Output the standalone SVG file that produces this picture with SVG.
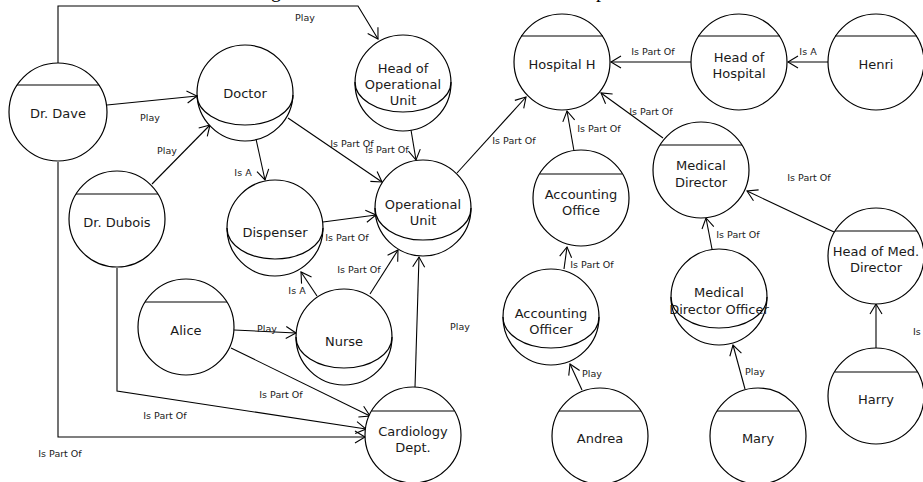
<svg xmlns="http://www.w3.org/2000/svg" width="923" height="482" viewBox="0 0 923 482">
  <style>
    .node circle { fill: #ffffff; stroke: #000000; stroke-width: 1.2; }
    .node line, .node path { fill: none; stroke: #000000; stroke-width: 1.2; }
    .node text { font-family: "DejaVu Sans", sans-serif; font-size: 13px; fill: #1a1a1a; text-anchor: middle; }
    .edges path { fill: none; stroke: #000000; stroke-width: 1.1; marker-end: url(#open-arrow); }
    .edge-labels text { font-family: "DejaVu Sans", sans-serif; font-size: 9.5px; fill: #1a1a1a; text-anchor: middle; }
    .title { font-family: "Liberation Serif", serif; font-size: 20px; fill: #000000; }
  </style>
  <defs>
    <marker id="open-arrow" markerUnits="userSpaceOnUse" markerWidth="14" markerHeight="14" refX="11" refY="7" orient="auto" overflow="visible">
      <path d="M1,1 L11,7 L1,13" fill="none" stroke="#000000" stroke-width="1.1"/>
    </marker>
  </defs>
  <rect width="923" height="482" fill="#ffffff"/>

  <!-- heading above the canvas edge -->
  <text class="title" x="271" y="-3">g</text>
  <text class="title" x="596" y="-3">p</text>

  <!-- connectors -->
  <g id="connectors" class="edges">
    <path d="M58,63 L58,6 L358,6 L378,39"/>
    <path d="M107,105 L197,96"/>
    <path d="M152,184 L210,125"/>
    <path d="M256,139 L265,180"/>
    <path d="M288,118 L382,182"/>
    <path d="M411,130 L416,160"/>
    <path d="M323,222 L376,215"/>
    <path d="M317,296 L301,272"/>
    <path d="M370,294 L398,250"/>
    <path d="M415,387 L419,257"/>
    <path d="M457,173 L526,97"/>
    <path d="M574,151 L567,111"/>
    <path d="M663,138 L601,93"/>
    <path d="M691,62 L611,62"/>
    <path d="M828,62 L788,62"/>
    <path d="M834,232 L747,191"/>
    <path d="M712,249 L706,218"/>
    <path d="M564,269 L567,247"/>
    <path d="M582,390 L570,364"/>
    <path d="M745,389 L733,345"/>
    <path d="M876,348 L876,304"/>
    <path d="M234,330 L296,333"/>
    <path d="M231,348 L370,416"/>
    <path d="M117,268 L117,391 L366,429"/>
    <path d="M58,162 L58,437 L365,437"/>
  </g>

  <g id="connector-labels" class="edge-labels">
    <text x="305" y="20.5">Play</text>
    <text x="150" y="120.5">Play</text>
    <text x="167" y="153.5">Play</text>
    <text x="243" y="175.5">Is A</text>
    <text x="352" y="146.5">Is Part Of</text>
    <text x="387" y="152.5">Is Part Of</text>
    <text x="347" y="240.5">Is Part Of</text>
    <text x="297" y="293.5">Is A</text>
    <text x="359" y="272.5">Is Part Of</text>
    <text x="460" y="329.5">Play</text>
    <text x="514" y="143.5">Is Part Of</text>
    <text x="599" y="131.5">Is Part Of</text>
    <text x="651" y="114.5">Is Part Of</text>
    <text x="653" y="54.5">Is Part Of</text>
    <text x="808" y="54.5">Is A</text>
    <text x="809" y="180.5">Is Part Of</text>
    <text x="738" y="237.5">Is Part Of</text>
    <text x="592" y="267.5">Is Part Of</text>
    <text x="592" y="376.5">Play</text>
    <text x="755" y="374.5">Play</text>
    <text x="913" y="334.5" style="text-anchor:start">Is A</text>
    <text x="267" y="331.5">Play</text>
    <text x="281" y="397.5">Is Part Of</text>
    <text x="165" y="418.5">Is Part Of</text>
    <text x="60" y="456.5">Is Part Of</text>
  </g>

  <!-- instances: circle with a top band -->
  <g id="dr-dave" class="node">
    <circle cx="58" cy="112" r="49"/>
    <line x1="17" y1="85" x2="99" y2="85"/>
    <text x="58" y="117.5">Dr. Dave</text>
  </g>
  <g id="hospital-h" class="node">
    <circle cx="562" cy="62" r="48"/>
    <line x1="521" y1="36" x2="603" y2="36"/>
    <text x="562" y="68.5">Hospital H</text>
  </g>
  <g id="head-of-hospital" class="node">
    <circle cx="739" cy="62" r="48"/>
    <line x1="698" y1="36" x2="780" y2="36"/>
    <text x="739" y="61.5">Head of</text>
    <text x="739" y="77.5">Hospital</text>
  </g>
  <g id="henri" class="node">
    <circle cx="876" cy="62" r="48"/>
    <line x1="835" y1="36" x2="917" y2="36"/>
    <text x="876" y="68.5">Henri</text>
  </g>
  <g id="dr-dubois" class="node">
    <circle cx="117" cy="219" r="48"/>
    <line x1="76" y1="194" x2="158" y2="194"/>
    <text x="117" y="226.5">Dr. Dubois</text>
  </g>
  <g id="alice" class="node">
    <circle cx="186" cy="327" r="48"/>
    <line x1="145" y1="302" x2="227" y2="302"/>
    <text x="186" y="334.5">Alice</text>
  </g>
  <g id="cardiology-dept" class="node">
    <circle cx="413" cy="435" r="48"/>
    <line x1="372" y1="411" x2="454" y2="411"/>
    <text x="413" y="435.5">Cardiology</text>
    <text x="413" y="451.5">Dept.</text>
  </g>
  <g id="accounting-office" class="node">
    <circle cx="581" cy="198" r="48"/>
    <line x1="540" y1="174" x2="622" y2="174"/>
    <text x="581" y="198.5">Accounting</text>
    <text x="581" y="214.5">Office</text>
  </g>
  <g id="medical-director" class="node">
    <circle cx="701" cy="170" r="48"/>
    <line x1="660" y1="145" x2="742" y2="145"/>
    <text x="701" y="169.5">Medical</text>
    <text x="701" y="186.5">Director</text>
  </g>
  <g id="head-of-med-director" class="node">
    <circle cx="876" cy="256" r="48"/>
    <line x1="835" y1="231" x2="917" y2="231"/>
    <text x="876" y="255.5">Head of Med.</text>
    <text x="876" y="271.5">Director</text>
  </g>
  <g id="harry" class="node">
    <circle cx="876" cy="396" r="48"/>
    <line x1="835" y1="372" x2="917" y2="372"/>
    <text x="876" y="403.5">Harry</text>
  </g>
  <g id="andrea" class="node">
    <circle cx="600" cy="436" r="48"/>
    <line x1="559" y1="411" x2="641" y2="411"/>
    <text x="600" y="442.5">Andrea</text>
  </g>
  <g id="mary" class="node">
    <circle cx="758" cy="436" r="48"/>
    <line x1="717" y1="411" x2="799" y2="411"/>
    <text x="758" y="442.5">Mary</text>
  </g>

  <!-- roles: circle with a lower bowl -->
  <g id="doctor" class="node">
    <circle cx="245" cy="93" r="48"/>
    <path d="M197,95 A48,30 0 0 0 293,95"/>
    <text x="245" y="97.5">Doctor</text>
  </g>
  <g id="head-of-operational-unit" class="node">
    <circle cx="403" cy="83" r="48"/>
    <path d="M355,82 A48,30 0 0 0 451,82"/>
    <text x="403" y="72.5">Head of</text>
    <text x="403" y="88.5">Operational</text>
    <text x="403" y="104.5">Unit</text>
  </g>
  <g id="dispenser" class="node">
    <circle cx="275" cy="228" r="48"/>
    <path d="M227,228 A48,31 0 0 0 323,228"/>
    <text x="275" y="236.5">Dispenser</text>
  </g>
  <g id="operational-unit" class="node">
    <circle cx="423" cy="208" r="48"/>
    <path d="M375,208 A48,32 0 0 0 471,208"/>
    <text x="423" y="208.5">Operational</text>
    <text x="423" y="224.5">Unit</text>
  </g>
  <g id="nurse" class="node">
    <circle cx="344" cy="337" r="48"/>
    <path d="M296,337 A48,31 0 0 0 392,337"/>
    <text x="344" y="345.5">Nurse</text>
  </g>
  <g id="accounting-officer" class="node">
    <circle cx="551" cy="317" r="48"/>
    <path d="M503,317 A48,31 0 0 0 599,317"/>
    <text x="551" y="317.5">Accounting</text>
    <text x="551" y="333.5">Officer</text>
  </g>
  <g id="medical-director-officer" class="node">
    <circle cx="719" cy="297" r="48"/>
    <path d="M671,297 A48,31 0 0 0 767,297"/>
    <text x="719" y="296.5">Medical</text>
    <text x="719" y="313.5">Director Officer</text>
  </g>
</svg>
